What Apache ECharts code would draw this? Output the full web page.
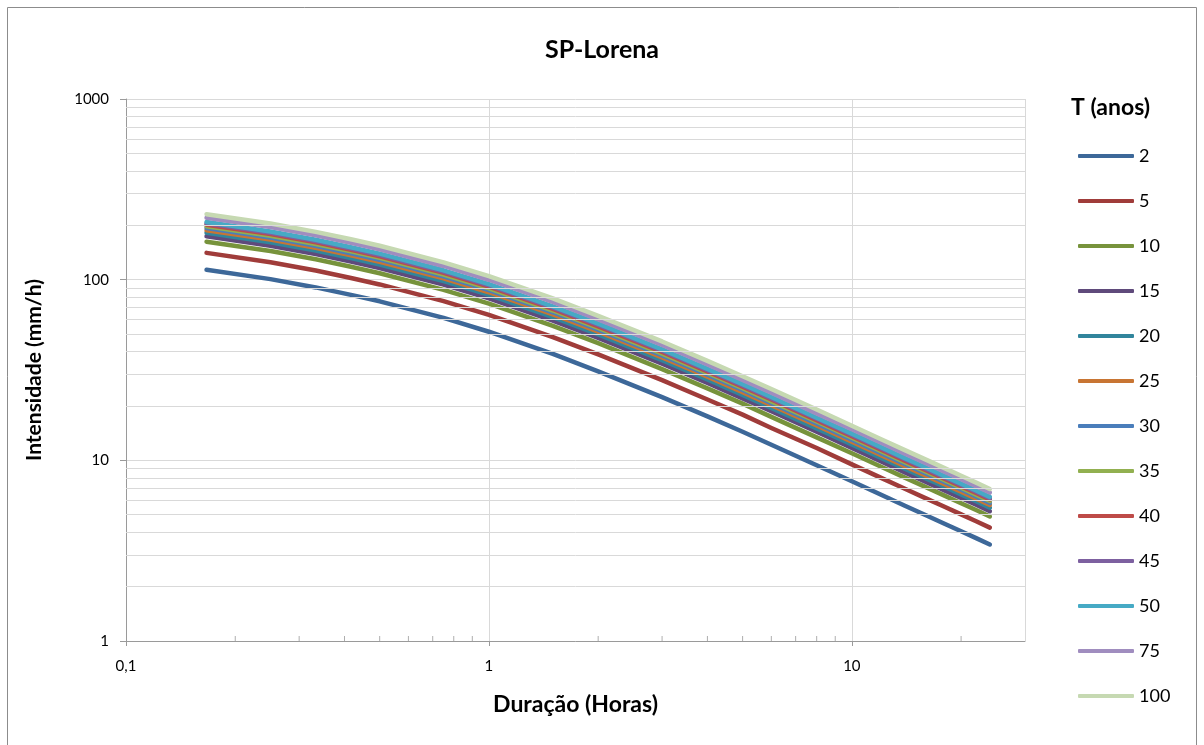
<!DOCTYPE html>
<html>
<head>
<meta charset="utf-8">
<title>SP-Lorena</title>
<script src="https://cdn.jsdelivr.net/npm/echarts@6/dist/echarts.min.js"></script>
<style>
	html, body { margin: 0; padding: 0; background: #fff; }
	#chart { width: 1204px; height: 745px; }
</style>
</head>
<body>
<div id="chart"></div>
<script>
	// duração em horas (10 min ... 24 h)
	var duracao = [0.1667, 0.25, 0.3333, 0.4167, 0.5, 0.75, 1, 1.5, 2, 3, 4, 5, 6, 8, 10, 12, 14, 16, 18, 20, 22, 24];

	// períodos de retorno (anos)
	var periodos = ['2', '5', '10', '15', '20', '25', '30', '35', '40', '45', '50', '75', '100'];

	// intensidades (mm/h)
	var i2 = [113.5, 100.7, 90.6, 82.4, 75.9, 61.4, 51.5, 38.8, 31.1, 22.4, 17.5, 14.4, 12.2, 9.40, 7.66, 6.47, 5.61, 4.97, 4.46, 4.05, 3.71, 3.42];
	var i5 = [140.7, 124.9, 112.3, 102.2, 94.1, 76.1, 63.9, 48.1, 38.6, 27.8, 21.7, 17.9, 15.1, 11.7, 9.50, 8.02, 6.96, 6.16, 5.53, 5.02, 4.60, 4.24];
	var i10 = [162.3, 144.0, 129.6, 117.8, 108.5, 87.8, 73.6, 55.5, 44.5, 32.0, 25.0, 20.6, 17.4, 13.4, 10.95, 9.25, 8.02, 7.11, 6.38, 5.79, 5.31, 4.89];
	var i15 = [173.7, 154.1, 138.6, 126.1, 116.1, 93.9, 78.8, 59.4, 47.6, 34.3, 26.8, 22.0, 18.7, 14.4, 11.72, 9.90, 8.58, 7.60, 6.82, 6.20, 5.68, 5.23];
	var i20 = [181.6, 161.1, 145.0, 131.8, 121.4, 98.2, 82.4, 62.1, 49.8, 35.8, 28.0, 23.0, 19.5, 15.0, 12.26, 10.35, 8.98, 7.95, 7.14, 6.48, 5.94, 5.47];
	var i25 = [187.8, 166.7, 149.9, 136.4, 125.6, 101.6, 85.2, 64.2, 51.5, 37.1, 29.0, 23.8, 20.2, 15.6, 12.68, 10.71, 9.28, 8.23, 7.38, 6.70, 6.14, 5.66];
	var i30 = [193.0, 171.2, 154.0, 140.1, 129.0, 104.4, 87.6, 66.0, 52.9, 38.1, 29.8, 24.5, 20.7, 16.0, 13.02, 11.00, 9.54, 8.45, 7.58, 6.89, 6.31, 5.81];
	var i35 = [197.5, 175.2, 157.6, 143.4, 132.1, 106.8, 89.6, 67.5, 54.1, 39.0, 30.5, 25.1, 21.2, 16.4, 13.33, 11.26, 9.76, 8.65, 7.76, 7.05, 6.46, 5.95];
	var i40 = [201.5, 178.7, 160.8, 146.3, 134.7, 109.0, 91.4, 68.9, 55.2, 39.8, 31.1, 25.6, 21.7, 16.7, 13.60, 11.48, 9.96, 8.82, 7.92, 7.19, 6.59, 6.07];
	var i45 = [204.9, 181.8, 163.5, 148.7, 137.0, 110.8, 93.0, 70.0, 56.1, 40.4, 31.6, 26.0, 22.0, 17.0, 13.83, 11.68, 10.13, 8.97, 8.05, 7.31, 6.70, 6.17];
	var i50 = [208.3, 184.8, 166.3, 151.2, 139.3, 112.7, 94.5, 71.2, 57.1, 41.1, 32.1, 26.4, 22.4, 17.2, 14.06, 11.87, 10.29, 9.12, 8.18, 7.43, 6.81, 6.28];
	var i75 = [220.2, 195.4, 175.8, 159.9, 147.2, 119.1, 99.9, 75.3, 60.3, 43.5, 34.0, 27.9, 23.7, 18.2, 14.86, 12.55, 10.88, 9.64, 8.65, 7.86, 7.20, 6.63];
	var i100 = [230.4, 204.4, 183.9, 167.3, 154.1, 124.6, 104.5, 78.8, 63.1, 45.5, 35.5, 29.2, 24.8, 19.1, 15.55, 13.13, 11.39, 10.09, 9.05, 8.22, 7.53, 6.94];

	var intensidades = [i2, i5, i10, i15, i20, i25, i30, i35, i40, i45, i50, i75, i100];

	var cores = ['#3D6899', '#A03C3A', '#77933C', '#5F4A7B', '#31859C', '#C87533', '#4A7EBB',
		'#92B050', '#BE4B48', '#7D60A0', '#46AAC5', '#A08DBF', '#C6D9B2'];

	// marcas secundárias dos eixos
	var minorX = [0.2, 0.3, 0.4, 0.5, 0.6, 0.7, 0.8, 0.9, 2, 3, 4, 5, 6, 7, 8, 9, 20];
	var minorY = [2, 3, 4, 5, 6, 7, 8, 9, 20, 30, 40, 50, 60, 70, 80, 90, 200, 300, 400, 500, 600, 700, 800, 900];

	var fonte = 'Lato, "Open Sans", sans-serif';
	var cinza = '#d9d9d9';

	var series = periodos.map(function(p, k) {
		return {
			name: p,
			type: 'line',
			data: duracao.map(function(d, j) { return [d, intensidades[k][j]]; }),
			symbol: 'none',
			lineStyle: { width: 4.5, color: cores[k], cap: 'round', join: 'round' },
			itemStyle: { color: cores[k] },
			z: 3
		};
	});

	series.unshift({
		name: 'grade',
		type: 'scatter',
		data: minorX.map(function(v) { return [v, 1]; }),
		symbol: 'rect',
		symbolSize: [1, 5],
		symbolOffset: [0, -2.5],
		itemStyle: { color: '#9a9a9a' },
		silent: true,
		z: 1,
		markLine: {
			silent: true,
			symbol: ['none', 'none'],
			label: { show: false },
			lineStyle: { type: 'solid', color: cinza, width: 1 },
			data: minorY.map(function(v) { return { yAxis: v }; })
		}
	});

	var myChart = echarts.init(document.getElementById('chart'));
	myChart.setOption({
		animation: false,
		textStyle: { fontFamily: fonte },
		title: [{
			text: 'SP-Lorena',
			left: 'center',
			top: 32,
			textStyle: { fontFamily: fonte, fontSize: 25, fontWeight: 'bold', color: '#000' }
		}, {
			text: 'T (anos)',
			left: 1066,
			top: 91,
			textStyle: { fontFamily: fonte, fontSize: 23, fontWeight: 'bold', color: '#000' }
		}],
		graphic: [{
			type: 'rect',
			shape: { x: 7.5, y: 7.5, width: 1189, height: 760 },
			style: { fill: null, stroke: '#8c8c8c', lineWidth: 1 },
			silent: true
		}],
		legend: {
			orient: 'vertical',
			left: 1073,
			top: 142,
			itemWidth: 56,
			itemHeight: 4,
			itemGap: 27,
			icon: 'roundRect',
			data: periodos,
			textStyle: { fontFamily: fonte, fontSize: 18, color: '#000' }
		},
		grid: { left: 126, right: 179, top: 99, bottom: 104 },
		xAxis: {
			type: 'log',
			logBase: 10,
			min: 0.1,
			max: 30,
			name: 'Duração (Horas)',
			nameLocation: 'middle',
			nameGap: 52,
			nameTextStyle: { fontFamily: fonte, fontSize: 23, fontWeight: 'bold', color: '#000' },
			axisLine: { lineStyle: { color: '#9a9a9a' } },
			axisTick: { show: true, length: 5, lineStyle: { color: '#9a9a9a' } },
			axisLabel: {
				margin: 18,
				showMaxLabel: false,
				fontSize: 15,
				color: '#000',
				formatter: function(v) { return String(v).replace('.', ','); }
			},
			splitLine: { show: true, lineStyle: { color: cinza, width: 1 } }
		},
		yAxis: {
			type: 'log',
			logBase: 10,
			min: 1,
			max: 1000,
			name: 'Intensidade (mm/h)',
			nameLocation: 'middle',
			nameGap: 81,
			nameTextStyle: { fontFamily: fonte, fontSize: 21, fontWeight: 'bold', color: '#000' },
			axisLine: { show: true, lineStyle: { color: '#9a9a9a' } },
			axisTick: { show: true, length: 6, lineStyle: { color: '#9a9a9a' } },
			axisLabel: {
				margin: 17,
				fontSize: 15,
				color: '#000',
				formatter: function(v) { return String(v); }
			},
			splitLine: { show: true, lineStyle: { color: cinza, width: 1 } }
		},
		series: series
	});
</script>
</body>
</html>
